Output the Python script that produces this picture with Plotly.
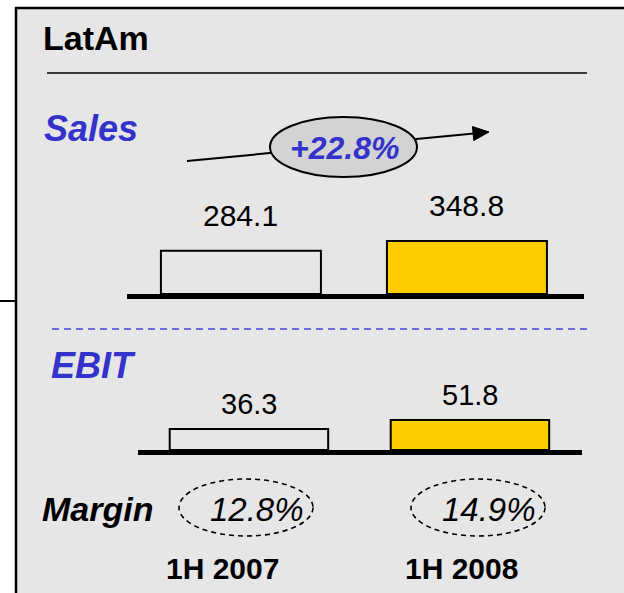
import plotly.graph_objects as go

# ---- data ----
periods = ["1H 2007", "1H 2008"]
sales = [284.1, 348.8]
ebit = [36.3, 51.8]
margin_pct = [12.8, 14.9]
sales_growth_pct = 22.8

W, H = 624, 593
BLUE = "#3333CC"
BG = "#E6E6E6"
FONT = "Arial, Liberation Sans, sans-serif"
bar_fills = ["rgba(0,0,0,0)", "#FFCC00"]


def px(x):
    return x / W


def py(y):
    return 1 - y / H


fig = go.Figure()

fig.add_trace(go.Bar(
    x=periods, y=sales, width=0.708,
    marker=dict(color=bar_fills, line=dict(color="black", width=2)),
    xaxis="x", yaxis="y", hoverinfo="skip", showlegend=False,
))
fig.add_trace(go.Bar(
    x=periods, y=ebit, width=0.717,
    marker=dict(color=bar_fills, line=dict(color="black", width=2)),
    xaxis="x2", yaxis="y2", hoverinfo="skip", showlegend=False,
))

axis_common = dict(showgrid=False, zeroline=False, showticklabels=False, ticks="", fixedrange=True)

fig.update_layout(
    width=W, height=H,
    autosize=False,
    margin=dict(l=0, r=0, t=0, b=0, pad=0),
    paper_bgcolor=BG,
    plot_bgcolor="rgba(0,0,0,0)",
    bargap=0,
    xaxis=dict(domain=[px(127), px(584)], range=[-0.504, 1.518], anchor="y",
               showline=True, linecolor="black", linewidth=5, type="category", **axis_common),
    yaxis=dict(domain=[py(294), py(187.6)], range=[0, 700], anchor="x", showline=False, **axis_common),
    xaxis2=dict(domain=[px(138), px(582)], range=[-0.502, 1.507], anchor="y2",
                showline=True, linecolor="black", linewidth=5, type="category", **axis_common),
    yaxis2=dict(domain=[py(450), py(392.1)], range=[0, 100], anchor="x2", showline=False, **axis_common),
)

shapes = []
# white surround above and to the left of the panel
shapes.append(dict(type="rect", xref="paper", yref="paper",
                   x0=-0.01, x1=px(16), y0=-0.01, y1=1.01,
                   fillcolor="white", line=dict(width=0), layer="below"))
shapes.append(dict(type="rect", xref="paper", yref="paper",
                   x0=-0.01, x1=1.01, y0=py(8), y1=1.01,
                   fillcolor="white", line=dict(width=0), layer="below"))
# panel left and top border
shapes.append(dict(type="line", xref="paper", yref="paper",
                   x0=px(16), x1=px(16), y0=py(7), y1=-0.05,
                   line=dict(color="black", width=2.5)))
shapes.append(dict(type="line", xref="paper", yref="paper",
                   x0=px(15), x1=1.05, y0=py(8), y1=py(8),
                   line=dict(color="black", width=2.5)))
# small connector line on the left edge
shapes.append(dict(type="line", xref="paper", yref="paper",
                   x0=px(0), x1=px(16), y0=py(301), y1=py(301),
                   line=dict(color="black", width=2)))
# rule under the title
shapes.append(dict(type="line", xref="paper", yref="paper",
                   x0=px(47), x1=px(587), y0=py(73), y1=py(73),
                   line=dict(color="black", width=1.5)))
# dashed separator between Sales and EBIT
shapes.append(dict(type="line", xref="paper", yref="paper",
                   x0=px(52), x1=px(590), y0=py(329), y1=py(329),
                   line=dict(color="#4444DD", width=1.5, dash="7px,5px")))
# growth arrow line
shapes.append(dict(type="line", xref="paper", yref="paper",
                   x0=px(187), x1=px(474), y0=py(161), y1=py(133.5),
                   line=dict(color="black", width=2)))
# arrow head
shapes.append(dict(type="path", xref="paper", yref="paper",
                   path=f"M {px(489)} {py(132)} L {px(473.8)} {py(140.5)} L {px(472.4)} {py(126.5)} Z",
                   fillcolor="black", line=dict(color="black", width=1)))
# growth bubble
shapes.append(dict(type="circle", xref="paper", yref="paper",
                   x0=px(270), x1=px(417), y0=py(177), y1=py(117),
                   fillcolor="#D3D3D3", line=dict(color="black", width=2)))
# dashed margin ellipses
for cx in (246, 478):
    shapes.append(dict(type="circle", xref="paper", yref="paper",
                       x0=px(cx - 67), x1=px(cx + 67), y0=py(536), y1=py(479),
                       line=dict(color="black", width=1.6, dash="5px,4px")))

annotations = []


def text(x, y, s, size, color="black", xanchor="center"):
    annotations.append(dict(xref="paper", yref="paper", x=px(x), y=py(y), text=s,
                            showarrow=False, xanchor=xanchor, yanchor="middle",
                            font=dict(family=FONT, size=size, color=color)))


text(40.5, 38.5, "<b>LatAm</b>", 34, "black", "left")
text(42, 129, "<b><i>Sales</i></b>", 36, BLUE, "left")
text(344, 148, f"<b><i>+{sales_growth_pct:.1f}%</i></b>", 32, BLUE)
text(49, 365, "<b><i>EBIT</i></b>", 36, BLUE, "left")
text(40, 509, "<b><i>Margin</i></b>", 34, "black", "left")
for cx, m in zip((257, 489), margin_pct):
    text(cx, 509, f"<i>{m:.1f}%</i>", 33)
for cx, p in zip((222, 461), periods):
    text(cx, 568, f"<b>{p}</b>", 30)

# value labels above bars
for p, v in zip(periods, sales):
    annotations.append(dict(xref="x", yref="y", x=p, y=v, text=f"{v:.1f}", showarrow=False,
                            yanchor="middle", yshift=35,
                            font=dict(family=FONT, size=30, color="black")))
for p, v in zip(periods, ebit):
    annotations.append(dict(xref="x2", yref="y2", x=p, y=v, text=f"{v:.1f}", showarrow=False,
                            yanchor="middle", yshift=25,
                            font=dict(family=FONT, size=29, color="black")))

fig.update_layout(shapes=shapes, annotations=annotations)

fig.write_html(
    "out.html",
    config={"displayModeBar": False, "staticPlot": True},
    post_script=(
        "document.documentElement.style.overflow='hidden';"
        "document.body.style.margin='0';document.body.style.overflow='hidden';"
    ),
)
